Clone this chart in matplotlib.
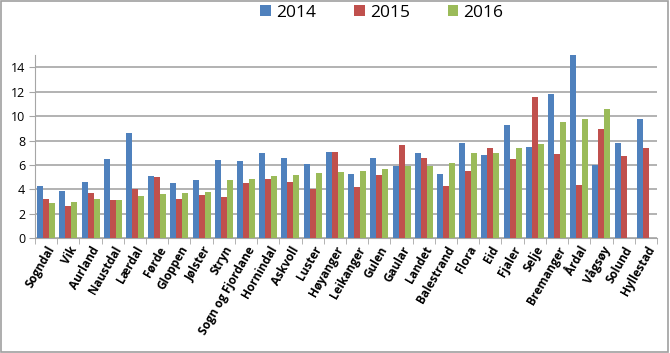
import matplotlib
matplotlib.use("Agg")
import matplotlib.pyplot as plt
import numpy as np
from matplotlib.patches import Rectangle

categories = ["Sogndal", "Vik", "Aurland", "Naustdal", "Lærdal", "Førde", "Gloppen",
              "Jølster", "Stryn", "Sogn og Fjordane", "Hornindal", "Askvoll", "Luster",
              "Høyanger", "Leikanger", "Gulen", "Gaular", "Landet", "Balestrand", "Flora",
              "Eid", "Fjaler", "Selje", "Bremanger", "Årdal", "Vågsøy", "Solund", "Hyllestad"]
v2014 = [4.3, 3.9, 4.6, 6.5, 8.65, 5.1, 4.5, 4.75, 6.4, 6.35, 6.95, 6.55, 6.05, 7.05, 5.3,
         6.6, 5.9, 6.95, 5.3, 7.8, 6.8, 9.3, 7.45, 11.85, 15.0, 6.0, 7.8, 9.8]
v2015 = [3.25, 2.65, 3.7, 3.15, 4.05, 5.0, 3.25, 3.55, 3.35, 4.5, 4.85, 4.6, 4.05, 7.05,
         4.2, 5.15, 7.6, 6.6, 4.3, 5.5, 7.4, 6.45, 11.55, 6.9, 4.4, 8.95, 6.75, 7.4]
v2016 = [2.9, 3.0, 3.2, 3.15, 3.45, 3.65, 3.7, 3.8, 4.75, 4.85, 5.1, 5.2, 5.35, 5.45, 5.5,
         5.65, 5.9, 5.9, 6.15, 7.0, 7.0, 7.4, 7.75, 9.5, 9.8, 10.6, np.nan, np.nan]
series_labels = ["2014", "2015", "2016"]
colors = ["#4F81BD", "#C0504D", "#9BBB59"]

fig = plt.figure(figsize=(6.7, 3.53), dpi=100)
ax = fig.add_axes([0.0522, 0.325, 0.9284, 0.519])

x = np.arange(len(categories))
w = 0.27
for i, (vals, lab, c) in enumerate(zip([v2014, v2015, v2016], series_labels, colors)):
    ax.bar(x + (i - 1) * w, vals, width=w, color=c, label=lab, zorder=3)

ax.set_xlim(-0.5, len(categories) - 0.5)
ax.set_ylim(0, 15)
ax.set_yticks(np.arange(0, 15, 2))
ax.yaxis.grid(True, color="#A6A6A6", linewidth=1.2, zorder=0)
ax.set_axisbelow(True)
for s in ["top", "right"]:
    ax.spines[s].set_visible(False)
ax.spines["left"].set_color("#A6A6A6")
ax.spines["bottom"].set_color("#A6A6A6")
ax.tick_params(axis="y", length=4, color="#A6A6A6", labelsize=9, pad=3)
ax.set_xticks(x)
ax.set_xticklabels(categories, rotation=60, ha="right", rotation_mode="anchor",
                   fontsize=8.5, fontweight="bold", family="Open Sans")
ax.tick_params(axis="x", length=0, pad=4)
ax.set_xticks(np.arange(-0.5, len(categories), 1), minor=True)
ax.tick_params(axis="x", which="minor", length=4, color="#A6A6A6")
for t in ax.get_yticklabels():
    t.set_family("Open Sans")

leg = fig.legend(loc="upper center", bbox_to_anchor=(0.57, 1.03), ncol=3, frameon=False,
                 handlelength=0.6, handleheight=0.6, handletextpad=0.3,
                 columnspacing=2.2, prop={"family": "Open Sans", "size": 12.5})

fig.patches.append(Rectangle((0.002, 0.004), 0.995, 0.992, transform=fig.transFigure,
                             fill=False, edgecolor="#A0A0A0", linewidth=1.2))
fig.savefig("out.png", dpi=100)
